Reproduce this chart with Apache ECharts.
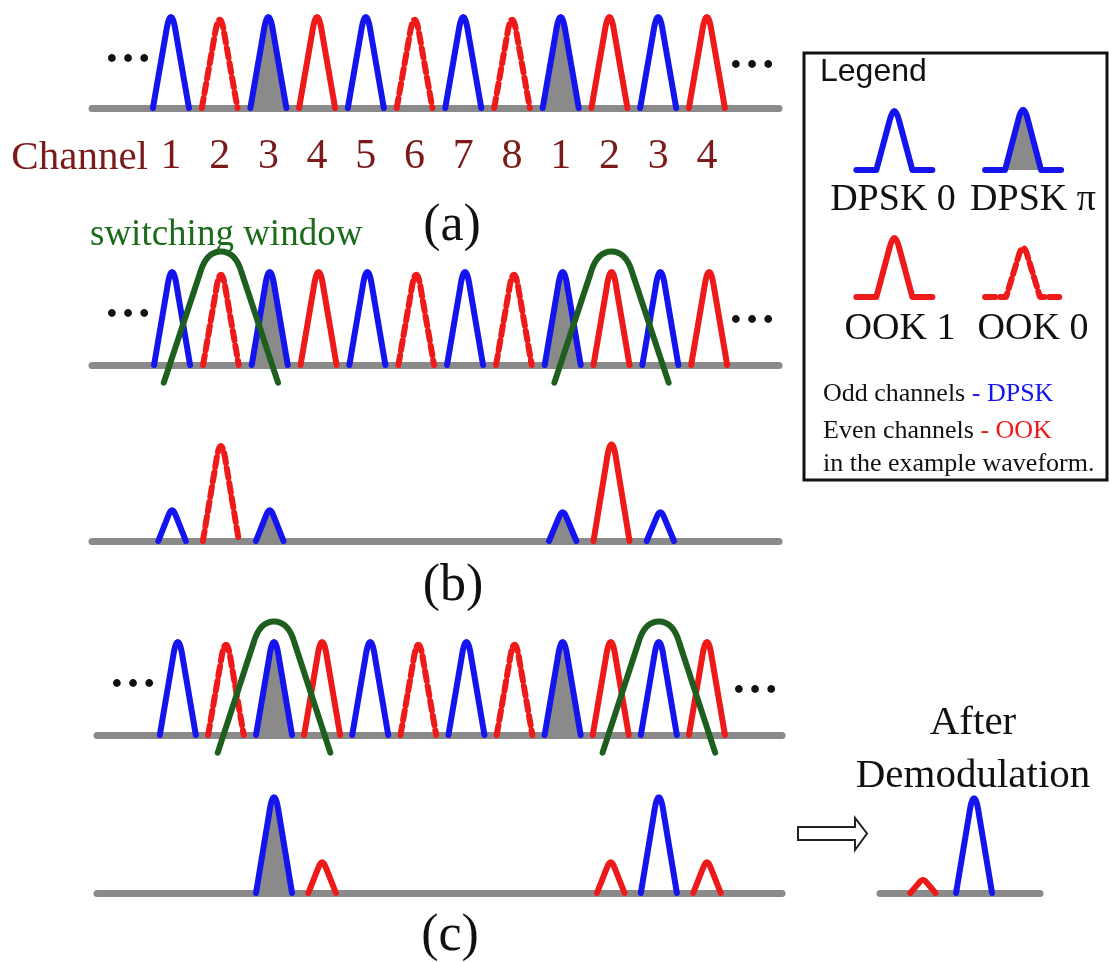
<!DOCTYPE html>
<html>
<head>
<meta charset="utf-8">
<title>DPSK / OOK switching window</title>
<script src="https://cdn.jsdelivr.net/npm/echarts@6/dist/echarts.min.js"></script>
<style>
  html, body { margin: 0; background: #fff; }
  #chart { width: 1110px; height: 962px; }
</style>
</head>
<body>
<div id="chart"></div>
<script>
  // time slots of the example waveform
  const slots = [1, 2, 3, 4, 5, 6, 7, 8, 9, 10, 11, 12]
  const channelLabels = ['1', '2', '3', '4', '5', '6', '7', '8', '1', '2', '3', '4']
  const waveKinds = ['dpsk0', 'ook0', 'dpskpi', 'ook1', 'dpsk0', 'ook0', 'dpsk0', 'ook0', 'dpskpi', 'ook1', 'dpsk0', 'ook1']
  const waveAmp = [1, 0.97, 1, 1, 1, 0.97, 1, 0.97, 1, 1, 1, 1]

  // centre slot of each switching window
  const windowB = [2, 10]
  const windowC = [3, 11]

  // what is left after the window
  const outBSlots = [1, 2, 3, 9, 10, 11]
  const outBAmp = [0.33, 1.02, 0.33, 0.31, 1.04, 0.31]
  const outBKinds = ['dpsk0', 'ook0', 'dpskpi', 'dpskpi', 'ook1', 'dpsk0']

  const outCSlots = [3, 4, 10, 11, 12]
  const outCAmp = [1.03, 0.33, 0.33, 1.03, 0.33]
  const outCKinds = ['dpskpi', 'ook1', 'ook1', 'dpsk0', 'ook1']

  const demodSlots = [0, 1]
  const demodAmp = [0.14, 1.02]
  const demodKinds = ['ook1', 'dpsk0']

  // legend: two rows, two columns
  const legendCols = [0, 1]
  const legendKinds = [['dpsk0', 'dpskpi'], ['ook1', 'ook0']]
  const legendAmp = [[1, 1.02], [1, 0.83]]
  const legendNames = [['DPSK 0', 'DPSK \u03c0'], ['OOK 1', 'OOK 0']]

  const BLUE = '#1414ee'
  const RED = '#ee1a1a'
  const GRAY = '#8a8a8a'
  const GREEN = '#1e5e1e'
  const DARKRED = '#7a1a1a'
  const SERIF = '"Liberation Serif", "Times New Roman", serif'

  const chart = echarts.init(document.getElementById('chart'))

  function pulseRenderer (kinds, tail) {
    return function (params, api) {
      const kind = kinds[params.dataIndex]
      const amp = api.value(1)
      const base = api.coord([api.value(0), 0])
      const top = api.coord([api.value(0), amp])
      const cx = base[0]
      const by = base[1]
      const h = by - top[1]
      const hw = 18 * (0.65 + 0.35 * Math.min(amp, 1))
      const body = ' L' + (cx - 0.28 * hw) + ' ' + (by - 0.82 * h) +
        ' Q' + cx + ' ' + (by - 1.18 * h) + ' ' + (cx + 0.28 * hw) + ' ' + (by - 0.82 * h) +
        ' L' + (cx + hw) + ' ' + by
      let d = 'M' + (cx - hw) + ' ' + by + body
      if (tail) d = 'M' + (cx - tail) + ' ' + by + ' L' + (cx - hw) + ' ' + by + body + ' L' + (cx + tail) + ' ' + by
      const children = []
      if (kind === 'dpskpi') {
        children.push({
          type: 'path',
          shape: { pathData: 'M' + (cx - hw) + ' ' + by + body + ' Z' },
          style: { fill: GRAY, stroke: null }
        })
      }
      children.push({
        type: 'path',
        shape: { pathData: d },
        style: {
          fill: null,
          stroke: kind.indexOf('dpsk') === 0 ? BLUE : RED,
          lineWidth: 6,
          lineDash: kind === 'ook0' ? [10, 5] : null,
          lineJoin: 'round',
          lineCap: 'round'
        }
      })
      return { type: 'group', children }
    }
  }

  function windowRenderer (params, api) {
    const c = api.coord([api.value(0), 0])
    const sx = api.size([1, 0])[0]
    const sy = api.size([0, 1])[1]
    const cx = c[0]
    const by = c[1]
    const p = (dx, dy) => (cx + dx * sx) + ' ' + (by - dy * sy)
    const d = 'M' + p(-1.17, -0.19) + ' L' + p(-0.42, 1.0) +
      ' C' + p(-0.34, 1.14) + ' ' + p(-0.22, 1.22) + ' ' + p(0, 1.22) +
      ' C' + p(0.22, 1.22) + ' ' + p(0.34, 1.14) + ' ' + p(0.42, 1.0) +
      ' L' + p(1.17, -0.19)
    return {
      type: 'path',
      shape: { pathData: d },
      style: { fill: null, stroke: GREEN, lineWidth: 6, lineCap: 'round', lineJoin: 'round' }
    }
  }

  // one grid per waveform row
  const grids = [
    { left: 92, top: 17, width: 687, height: 91 },
    { left: 92, top: 272, width: 687, height: 93 },
    { left: 92, top: 448, width: 687, height: 93 },
    { left: 97, top: 642, width: 685, height: 93 },
    { left: 97, top: 800, width: 685, height: 93 },
    { left: 880, top: 800, width: 160, height: 93 },
    { left: 830, top: 111, width: 260, height: 59 },
    { left: 830, top: 238, width: 260, height: 59 }
  ]
  const ranges = [
    [-0.62, 13.48], [-0.64, 13.43], [-0.64, 13.43], [-0.68, 13.56], [-0.68, 13.56],
    [-0.84, 2.29], [-0.5, 1.52], [-0.5, 1.52]
  ]

  const xAxis = grids.map((g, i) => ({
    type: 'value',
    gridIndex: i,
    min: ranges[i][0],
    max: ranges[i][1],
    splitLine: { show: false },
    axisTick: { show: false },
    axisLine: { show: i < 6, onZero: false, lineStyle: { color: GRAY, width: 7 } },
    axisLabel: i === 0 ? {
      customValues: slots,
      formatter: v => channelLabels[slots.indexOf(v)],
      fontFamily: SERIF,
      fontSize: 42,
      color: DARKRED,
      margin: 28
    } : { show: false }
  }))
  const yAxis = grids.map((g, i) => ({ type: 'value', gridIndex: i, min: 0, max: 1, show: false }))

  function pulses (axis, xs, amps, kinds, tail) {
    return {
      type: 'custom',
      xAxisIndex: axis,
      yAxisIndex: axis,
      clip: false,
      z: 3,
      renderItem: pulseRenderer(kinds, tail),
      data: xs.map((x, i) => [x, amps[i]])
    }
  }
  function windows (axis, centres) {
    return {
      type: 'custom',
      xAxisIndex: axis,
      yAxisIndex: axis,
      clip: false,
      z: 5,
      renderItem: windowRenderer,
      data: centres.map(c => [c, 0])
    }
  }

  function txt (text, x, y, size, extra) {
    return {
      type: 'text',
      x: x,
      y: y,
      z: 10,
      style: Object.assign({
        text: text,
        fontFamily: SERIF,
        fontSize: size,
        fill: '#111',
        align: 'center',
        verticalAlign: 'middle'
      }, extra || {})
    }
  }
  const dots = (x, y) => txt('\u2026', x, y, 48, { fontWeight: 'bold' })

  const legendText = c => ({ fontFamily: SERIF, fontSize: 26, fill: c })

  chart.setOption({
    animation: false,
    backgroundColor: '#fff',
    grid: grids,
    xAxis: xAxis,
    yAxis: yAxis,
    series: [
      pulses(0, slots, waveAmp, waveKinds),
      pulses(1, slots, waveAmp, waveKinds),
      windows(1, windowB),
      pulses(2, outBSlots, outBAmp, outBKinds),
      pulses(3, slots, waveAmp, waveKinds),
      windows(3, windowC),
      pulses(4, outCSlots, outCAmp, outCKinds),
      pulses(5, demodSlots, demodAmp, demodKinds),
      pulses(6, legendCols, legendAmp[0], legendKinds[0], 38),
      pulses(7, legendCols, legendAmp[1], legendKinds[1], 38)
    ],
    graphic: [
      txt('Channel', 148, 158, 41, { align: 'right', fill: DARKRED }),
      txt('(a)', 452, 226, 52),
      txt('(b)', 453, 586, 52),
      txt('(c)', 450, 936, 52),
      txt('switching window', 90, 235, 37, { align: 'left', fill: '#1b6b1b' }),
      dots(128, 50), dots(752, 56),
      dots(128, 305), dots(752, 311),
      dots(133, 675), dots(755, 681),
      // legend box
      {
        type: 'rect',
        shape: { x: 804, y: 53, width: 303, height: 427 },
        style: { fill: null, stroke: '#111', lineWidth: 3 },
        z: 9
      },
      txt('Legend', 820, 72, 32, { align: 'left', fontFamily: '"Liberation Sans", Arial, sans-serif' }),
      txt(legendNames[0][0], 893, 200, 38),
      txt(legendNames[0][1], 1033, 200, 38),
      txt(legendNames[1][0], 900, 329, 38),
      txt(legendNames[1][1], 1033, 329, 38),
      txt('{k|Odd channels }{b|- DPSK}', 823, 394, 26, {
        align: 'left', rich: { k: legendText('#111'), b: legendText(BLUE) }
      }),
      txt('{k|Even channels }{r|- OOK}', 823, 431, 26, {
        align: 'left', rich: { k: legendText('#111'), r: legendText(RED) }
      }),
      txt('in the example waveform.', 823, 464, 26, { align: 'left' }),
      // demodulation
      txt('After', 973, 723, 41),
      txt('Demodulation', 973, 776, 41),
      {
        type: 'polygon',
        shape: { points: [[798, 827], [855, 827], [855, 818], [867, 833.5], [855, 850], [855, 840], [798, 840]] },
        style: { fill: '#fff', stroke: '#222', lineWidth: 2 },
        z: 9
      }
    ]
  })
</script>
</body>
</html>
